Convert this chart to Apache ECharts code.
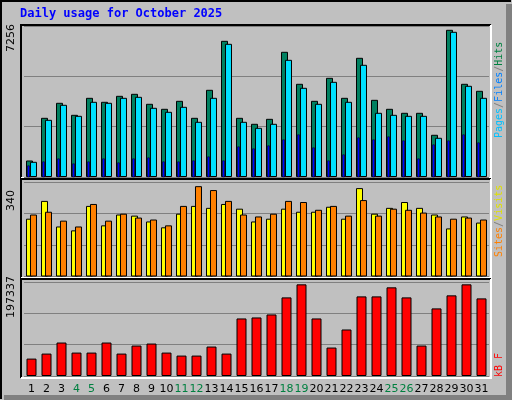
<!DOCTYPE html>
<html><head><meta charset="utf-8">
<script src="https://cdn.jsdelivr.net/npm/echarts@6/dist/echarts.min.js"></script>
<style>html,body{margin:0;padding:0;background:#c0c0c0}#c{width:512px;height:400px}</style>
</head><body><div id="c"></div>
<script>
var days = ['1','2','3','4','5','6','7','8','9','10','11','12','13','14','15','16','17','18','19','20','21','22','23','24','25','26','27','28','29','30','31'];
var weekend = ['4','5','11','12','18','19','25','26'];
var hits = [793,2844,3565,2988,3805,3613,3901,3997,3517,3277,3661,2844,4190,6544,2844,2556,2796,6016,4478,3661,4766,3805,5728,3709,3277,3085,3085,2028,7073,4478,4142];
var files = [730,2748,3469,2940,3613,3565,3805,3853,3325,3133,3373,2652,3805,6400,2652,2364,2556,5631,4286,3517,4574,3613,5391,3085,2988,2940,2940,1884,6977,4382,3805];
var pages = [538,730,874,634,730,874,682,874,922,730,730,778,970,778,1451,1355,1499,1787,2028,1403,778,1067,1884,1787,1932,1739,874,1547,1739,2028,1643];
var visits = [208,272,180,166,254,184,223,219,198,177,226,254,247,261,244,198,208,244,233,233,251,208,318,226,247,268,247,223,173,216,194];
var sites = [223,233,201,180,261,201,226,212,205,184,254,325,311,272,223,216,226,272,268,240,254,219,275,219,244,240,230,216,208,212,205];
var kbytes = [36520,47050,70230,49160,49160,70230,47050,63910,68120,49160,42840,42840,61800,47050,120800,122900,129200,165000,192400,120800,59700,97620,167100,167100,186100,165000,63910,141900,169300,192400,162900];
var maxTop = 7256, maxMid = 340, maxBot = 197337;

var chart = echarts.init(document.getElementById('c'), null, {renderer:'canvas'});
var grids = [
  {left:24, right:23, top:26, height:151},
  {left:24, right:23, top:182, height:94.5},
  {left:24, right:23, top:282, height:94}
];
function xa(i, show){
  return {type:'category', gridIndex:i, data:days, boundaryGap:true,
    axisLine:{show:false}, axisTick:{show:false}, splitLine:{show:false},
    axisLabel:{show:show, interval:0, margin:8, fontFamily:'DejaVu Sans', fontSize:11,
      color:function(v){return weekend.indexOf(v)>=0?'#008040':'#000';}}};
}
function ya(i, max){
  return {type:'value', gridIndex:i, min:0, max:max, interval:max/3,
    axisLine:{show:false}, axisTick:{show:false}, axisLabel:{show:false},
    splitLine:{show:true, lineStyle:{color:'#808080', width:1}}};
}
var bs = {borderColor:'#000', borderWidth:1};
function panel(x1,y1,x2,y2){
  return [
    {type:'rect', shape:{x:x1,y:y1,width:x2-x1,height:y2-y1}, style:{fill:'#c0c0c0'}, z:-10},
    {type:'polyline', shape:{points:[[x1,y2],[x1,y1],[x2,y1]]}, style:{stroke:'#000', lineWidth:2, fill:null}, z:-5},
    {type:'polyline', shape:{points:[[x2,y1],[x2,y2],[x1,y2]]}, style:{stroke:'#fff', lineWidth:2, fill:null}, z:-5}
  ];
}
var g = [
  {type:'rect', shape:{x:0,y:0,width:512,height:400}, style:{fill:'#c0c0c0'}, z:-20},
  {type:'polyline', shape:{points:[[1,399],[1,1],[511,1]]}, style:{stroke:'#000', lineWidth:2, fill:null}, z:-15},
  {type:'rect', shape:{x:506,y:4,width:6,height:396}, style:{fill:'#808080'}, z:-15},
  {type:'rect', shape:{x:4,y:395,width:508,height:5}, style:{fill:'#808080'}, z:-15},
  {type:'text', left:20, top:8, style:{text:'Daily usage for October 2025', fill:'#0000ff', font:'bold 12px "DejaVu Sans Mono"'}},
  {type:'text', x:6, y:52, rotation:Math.PI/2, style:{text:'7256', fill:'#000', font:'11px "DejaVu Sans"'}},
  {type:'text', x:6, y:211, rotation:Math.PI/2, style:{text:'340', fill:'#000', font:'11px "DejaVu Sans"'}},
  {type:'text', x:6, y:318, rotation:Math.PI/2, style:{text:'197337', fill:'#000', font:'11px "DejaVu Sans"'}},
  {type:'text', x:494, y:138, rotation:Math.PI/2, style:{rich:{a:{fill:'#00c0ff'},b:{fill:'#808080'},c:{fill:'#0080ff'},d:{fill:'#008040'}}, text:'{a|Pages}{b|/}{c|Files}{b|/}{d|Hits}', font:'10px "DejaVu Sans Mono"'}},
  {type:'text', x:494, y:257, rotation:Math.PI/2, style:{rich:{a:{fill:'#ff8000'},b:{fill:'#808080'},c:{fill:'#e0e000'}}, text:'{a|Sites}{b|/}{c|Visits}', font:'10px "DejaVu Sans Mono"'}},
  {type:'text', x:494, y:377, rotation:Math.PI/2, style:{text:'kB F', fill:'#ff0000', font:'10px "DejaVu Sans Mono"'}}
].concat(panel(21,25,491,178), panel(21,179,491,278), panel(21,279,491,378));

chart.setOption({
  animation:false,
  backgroundColor:'#c0c0c0',
  grid:grids,
  xAxis:[xa(0,false), xa(1,false), xa(2,true)],
  yAxis:[ya(0,maxTop), ya(1,maxMid), ya(2,maxBot)],
  graphic:g,
  series:[
    {type:'bar', xAxisIndex:0, yAxisIndex:0, data:hits, barWidth:7, barGap:'-43%', itemStyle:Object.assign({color:'#008060'},bs)},
    {type:'bar', xAxisIndex:0, yAxisIndex:0, data:files, barWidth:7, itemStyle:Object.assign({color:'#00e0ff'},bs)},
    {type:'custom', xAxisIndex:0, yAxisIndex:0, data:pages.map(function(v,i){return [i,v];}),
      renderItem:function(params, api){
        var p = api.coord([api.value(0), api.value(1)]);
        var b = api.coord([api.value(0), 0]);
        return {type:'rect', shape:{x:p[0]-4, y:p[1], width:2, height:b[1]-p[1]}, style:{fill:'#0000ff', stroke:'#000', lineWidth:0.5}};
      }, encode:{x:0,y:1}, z:5},
    {type:'bar', xAxisIndex:1, yAxisIndex:1, data:visits, barWidth:7, barGap:'-43%', itemStyle:Object.assign({color:'#ffff00'},bs)},
    {type:'bar', xAxisIndex:1, yAxisIndex:1, data:sites, barWidth:7, itemStyle:Object.assign({color:'#ff8000'},bs)},
    {type:'bar', xAxisIndex:2, yAxisIndex:2, data:kbytes, barWidth:10, itemStyle:Object.assign({color:'#ff0000'},bs)}
  ]
});
</script></body></html>
